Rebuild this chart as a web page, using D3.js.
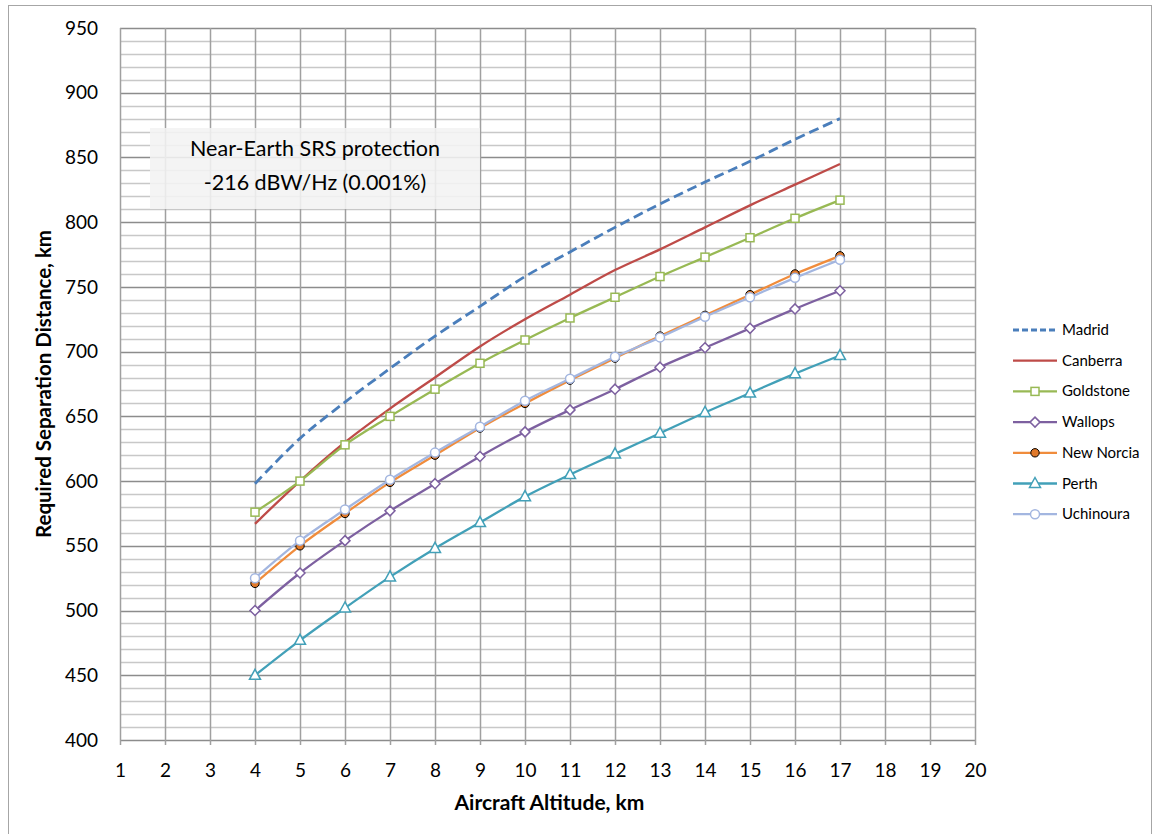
<!DOCTYPE html>
<html>
<head>
<meta charset="utf-8">
<script src="https://cdn.jsdelivr.net/npm/d3@7"></script>
<style>
    body { margin: 0; background: #fff; }
    text { font-family: Lato, "Open Sans", sans-serif; fill: #000; }
</style>
</head>
<body>
<svg id="chart" width="1153" height="834"></svg>
<script>
var altitudes = [4, 5, 6, 7, 8, 9, 10, 11, 12, 13, 14, 15, 16, 17];
var madrid = [598, 633, 661, 687, 712, 735, 758, 777, 796, 814, 831, 847, 864, 880];
var canberra = [567, 600, 630, 656, 680, 704, 725, 744, 763, 779, 796, 813, 829, 845];
var goldstone = [576, 600, 628, 650, 671, 691, 709, 726, 742, 758, 773, 788, 803, 817];
var wallops = [500, 529, 554, 577, 598, 619, 638, 655, 671, 688, 703, 718, 733, 747];
var newNorcia = [521, 550, 575, 599, 620, 641, 660, 678, 695, 712, 728, 744, 760, 774];
var perth = [450, 477, 502, 526, 548, 568, 588, 605, 621, 637, 653, 668, 683, 697];
var uchinoura = [525, 554, 578, 601, 622, 642, 662, 679, 696, 711, 727, 742, 757, 771];

var xTicks = d3.range(1, 21);
var yTicks = d3.range(400, 951, 50);
var yMinor = d3.range(400, 951, 10);

var series = [
    { name: "Madrid", values: madrid, color: "#4a7ebb", dash: "10,5", marker: null },
    { name: "Canberra", values: canberra, color: "#be4b48", dash: null, marker: null },
    { name: "Goldstone", values: goldstone, color: "#98b954", dash: null, marker: "square" },
    { name: "Wallops", values: wallops, color: "#7d60a0", dash: null, marker: "diamond" },
    { name: "New Norcia", values: newNorcia, color: "#f08c3c", dash: null, marker: "dot" },
    { name: "Perth", values: perth, color: "#42a0b8", dash: null, marker: "triangle" },
    { name: "Uchinoura", values: uchinoura, color: "#a3b6e0", dash: null, marker: "circle" }
];

var svg = d3.select("#chart");

// outer chart border
svg.append("rect")
    .attr("x", 8.5).attr("y", 5.5)
    .attr("width", 1143).attr("height", 840)
    .attr("fill", "none")
    .attr("stroke", "#a6a6a6");

var x = d3.scaleLinear().domain([1, 20]).range([120, 975]);
var y = d3.scaleLinear().domain([400, 950]).range([740, 28]);

// Grid lines
var grid = svg.append("g");
grid.selectAll(".minor")
    .data(yMinor.filter(function (d) { return d % 50 != 0; }))
    .enter().append("line")
    .attr("x1", x(1)).attr("x2", x(20))
    .attr("y1", function (d) { return Math.round(y(d)) + 0.5; })
    .attr("y2", function (d) { return Math.round(y(d)) + 0.5; })
    .attr("stroke", "#c8c8c8").attr("stroke-width", 1.5);
grid.selectAll(".major")
    .data(yTicks)
    .enter().append("line")
    .attr("x1", x(1)).attr("x2", x(20))
    .attr("y1", function (d) { return Math.round(y(d)) + 0.5; })
    .attr("y2", function (d) { return Math.round(y(d)) + 0.5; })
    .attr("stroke", "#8c8c8c").attr("stroke-width", 1.5);
grid.selectAll(".vert")
    .data(xTicks)
    .enter().append("line")
    .attr("x1", function (d) { return Math.round(x(d)) + 0.5; })
    .attr("x2", function (d) { return Math.round(x(d)) + 0.5; })
    .attr("y1", y(950)).attr("y2", y(400) + 5)
    .attr("stroke", "#a0a0a0").attr("stroke-width", 1.5);

// Axes (labels only, lines drawn by grid)
var xAxis = d3.axisBottom(x).tickValues(xTicks).tickSize(0).tickPadding(24);
var yAxis = d3.axisLeft(y).tickValues(yTicks).tickSize(0).tickPadding(22);

var gX = svg.append("g")
    .attr("transform", "translate(0," + y(400) + ")")
    .call(xAxis);
var gY = svg.append("g")
    .attr("transform", "translate(" + x(1) + ",0)")
    .call(yAxis);
gX.select(".domain").remove();
gY.select(".domain").remove();
svg.selectAll(".tick text")
    .style("font-family", "Lato, 'Open Sans', sans-serif")
    .style("font-size", "19px")
    .attr("fill", "#000");

// Axis titles
svg.append("text")
    .attr("transform", "translate(51," + ((y(950) + y(400)) / 2) + ") rotate(-90)")
    .attr("text-anchor", "middle")
    .style("font-size", "20.5px")
    .style("font-weight", "bold")
    .text("Required Separation Distance, km");
svg.append("text")
    .attr("x", (x(1) + x(20)) / 2 + 2)
    .attr("y", 810)
    .attr("text-anchor", "middle")
    .style("font-size", "21px")
    .style("font-weight", "bold")
    .text("Aircraft Altitude, km");

// Annotation box
svg.append("rect")
    .attr("x", 150).attr("y", 128)
    .attr("width", 330).attr("height", 81)
    .attr("fill", "#f2f2f2").attr("fill-opacity", 0.88);
svg.append("text")
    .attr("x", 315).attr("y", 156)
    .attr("text-anchor", "middle")
    .style("font-size", "21.5px")
    .text("Near-Earth SRS protection");
svg.append("text")
    .attr("x", 315).attr("y", 190)
    .attr("text-anchor", "middle")
    .style("font-size", "21.5px")
    .text("-216 dBW/Hz (0.001%)");

// Marker drawing
function drawMarker(g, type, color, cx, cy) {
    if (type == "square") {
        g.append("rect")
            .attr("x", cx - 4).attr("y", cy - 4)
            .attr("width", 8).attr("height", 8)
            .attr("fill", "#fff").attr("stroke", color).attr("stroke-width", 1.5);
    } else if (type == "diamond") {
        g.append("path")
            .attr("d", "M" + cx + "," + (cy - 5) + "L" + (cx + 5) + "," + cy + "L" + cx + "," + (cy + 5) + "L" + (cx - 5) + "," + cy + "Z")
            .attr("fill", "#fff").attr("stroke", color).attr("stroke-width", 1.5);
    } else if (type == "dot") {
        g.append("circle")
            .attr("cx", cx).attr("cy", cy).attr("r", 4.2)
            .attr("fill", "#e0792a").attr("stroke", "#000").attr("stroke-width", 1);
    } else if (type == "triangle") {
        g.append("path")
            .attr("d", "M" + cx + "," + (cy - 6) + "L" + (cx + 5.5) + "," + (cy + 4) + "L" + (cx - 5.5) + "," + (cy + 4) + "Z")
            .attr("fill", "#fff").attr("stroke", color).attr("stroke-width", 1.5);
    } else if (type == "circle") {
        g.append("circle")
            .attr("cx", cx).attr("cy", cy).attr("r", 4.5)
            .attr("fill", "#fff").attr("stroke", color).attr("stroke-width", 1.5);
    }
}

// Lines
var line = d3.line()
    .x(function (d) { return x(d[0]); })
    .y(function (d) { return y(d[1]); })
    .curve(d3.curveCatmullRom);

series.forEach(function (s) {
    var pts = altitudes.map(function (a, i) { return [a, s.values[i]]; });
    var g = svg.append("g");
    g.append("path")
        .attr("d", line(pts))
        .attr("fill", "none")
        .attr("stroke", s.color)
        .attr("stroke-width", s.dash ? 2.8 : 2.3)
        .attr("stroke-dasharray", s.dash);
    if (s.marker) {
        pts.forEach(function (p) { drawMarker(g, s.marker, s.color, x(p[0]), y(p[1])); });
    }
});

// Legend
var legend = svg.append("g");
series.forEach(function (s, i) {
    var ly = 330 + i * 30.7;
    legend.append("line")
        .attr("x1", 1013).attr("x2", 1057)
        .attr("y1", ly).attr("y2", ly)
        .attr("stroke", s.color)
        .attr("stroke-width", s.dash ? 2.8 : 2.3)
        .attr("stroke-dasharray", s.dash ? "6,3" : null);
    if (s.marker) drawMarker(legend, s.marker, s.color, 1035, ly);
    legend.append("text")
        .attr("x", 1062).attr("y", ly + 5)
        .style("font-size", "15px")
        .text(s.name);
});
</script>
</body>
</html>
